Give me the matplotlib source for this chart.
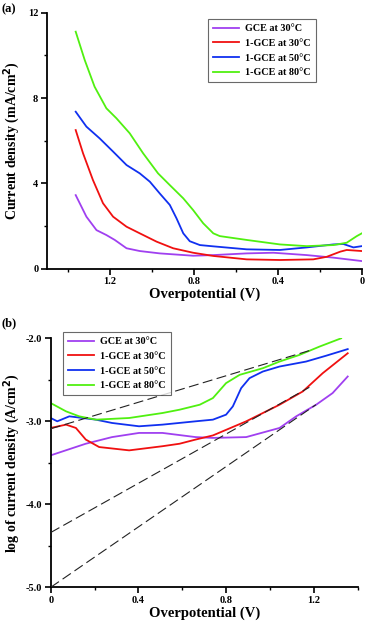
import numpy as np
import matplotlib
matplotlib.use('Agg')
import matplotlib.pyplot as plt
from matplotlib.ticker import MultipleLocator

plt.rcParams['font.family'] = ['Liberation Serif', 'DejaVu Serif']
plt.rcParams['font.weight'] = 'bold'

labels = ['GCE at 30\u00b0C', '1-GCE at 30\u00b0C', '1-GCE at 50\u00b0C', '1-GCE at 80\u00b0C']
colors = ['#A040F0', '#F01010', '#1030F0', '#50F010']

# panel (a): overpotential (V) vs current density (mA/cm2)
a_gce30_v = [1.362, 1.311, 1.263, 1.216, 1.176, 1.12, 1.057, 0.962, 0.803, 0.707, 0.548, 0.421, 0.262, 0.135, 0.0]
a_gce30_j = [3.45, 2.44, 1.81, 1.58, 1.35, 0.96, 0.83, 0.72, 0.61, 0.64, 0.72, 0.75, 0.64, 0.52, 0.36]
a_30_v = [1.362, 1.327, 1.28, 1.232, 1.184, 1.12, 1.057, 0.977, 0.898, 0.803, 0.707, 0.548, 0.39, 0.231, 0.167, 0.103, 0.072, 0.0]
a_30_j = [6.5, 5.41, 4.16, 3.07, 2.44, 1.97, 1.66, 1.27, 0.96, 0.75, 0.6, 0.44, 0.41, 0.44, 0.56, 0.8, 0.88, 0.83]
a_50_v = [1.362, 1.311, 1.248, 1.184, 1.12, 1.057, 1.009, 0.962, 0.914, 0.882, 0.85, 0.819, 0.771, 0.707, 0.548, 0.39, 0.262, 0.135, 0.088, 0.04, 0.0]
a_50_j = [7.36, 6.66, 6.11, 5.49, 4.86, 4.47, 4.08, 3.53, 2.99, 2.36, 1.66, 1.29, 1.11, 1.05, 0.91, 0.88, 1.0, 1.14, 1.16, 1.0, 1.06]
a_80_v = [1.362, 1.319, 1.272, 1.216, 1.168, 1.105, 1.041, 0.97, 0.914, 0.85, 0.803, 0.755, 0.707, 0.676, 0.548, 0.39, 0.262, 0.135, 0.072, 0.024, 0.0]
a_80_j = [11.11, 9.78, 8.53, 7.52, 7.05, 6.35, 5.41, 4.47, 3.92, 3.3, 2.75, 2.13, 1.66, 1.53, 1.35, 1.14, 1.06, 1.11, 1.22, 1.53, 1.66]

# panel (b): overpotential (V) vs log current density
b_gce30_v = [0.0, 0.16, 0.28, 0.403, 0.51, 0.661, 0.74, 0.892, 1.044, 1.12, 1.211, 1.286, 1.355]
b_gce30_j = [-3.41, -3.27, -3.19, -3.14, -3.14, -3.19, -3.2, -3.19, -3.08, -2.94, -2.8, -2.66, -2.46]
b_30_v = [0.0, 0.07, 0.115, 0.16, 0.221, 0.358, 0.51, 0.588, 0.661, 0.74, 0.892, 1.044, 1.15, 1.241, 1.355]
b_30_j = [-3.08, -3.04, -3.08, -3.22, -3.31, -3.35, -3.3, -3.27, -3.22, -3.17, -3.0, -2.8, -2.64, -2.42, -2.18]
b_50_v = [0.0, 0.03, 0.085, 0.206, 0.28, 0.403, 0.51, 0.661, 0.74, 0.8, 0.831, 0.869, 0.907, 0.968, 1.044, 1.165, 1.256, 1.355]
b_50_j = [-2.96, -3.0, -2.94, -2.98, -3.02, -3.06, -3.04, -3.0, -2.98, -2.92, -2.82, -2.6, -2.48, -2.4, -2.34, -2.28, -2.21, -2.13]
b_80_v = [0.0, 0.07, 0.13, 0.206, 0.358, 0.51, 0.588, 0.68, 0.74, 0.8, 0.862, 0.968, 1.044, 1.135, 1.226, 1.325]
b_80_j = [-2.78, -2.88, -2.94, -2.98, -2.96, -2.9, -2.86, -2.8, -2.72, -2.54, -2.44, -2.36, -2.28, -2.2, -2.1, -2.0]

# Tafel fit lines: (start V, end V, start log j, end log j)
fit_1 = [0.0, 1.19, -3.09, -2.14]
fit_2 = [0.0, 1.18, -4.34, -2.59]
fit_3 = [0.0, 1.21, -5.0, -2.80]

a_series = [(a_gce30_v, a_gce30_j), (a_30_v, a_30_j), (a_50_v, a_50_j), (a_80_v, a_80_j)]
b_series = [(b_gce30_v, b_gce30_j), (b_30_v, b_30_j), (b_50_v, b_50_j), (b_80_v, b_80_j)]

fig = plt.figure(figsize=(3.66, 6.25), dpi=100)
ax1 = fig.add_axes([0.1276, 0.570, 0.861, 0.4097])
ax2 = fig.add_axes([0.1385, 0.0603, 0.8385, 0.3984])


def style(ax):
    for s in ['top', 'right']:
        ax.spines[s].set_visible(False)
    for s in ['left', 'bottom']:
        ax.spines[s].set_linewidth(1.3)
    ax.tick_params(which='major', length=4, width=1.2, labelsize=7.5, pad=2)
    ax.tick_params(which='minor', length=2.5, width=1.0)


def add_legend(ax, anchor, loc):
    leg = ax.legend(loc=loc, bbox_to_anchor=anchor, fontsize=7.3, frameon=True,
                    fancybox=False, edgecolor='#444444', handlelength=2.6,
                    handletextpad=0.6, borderpad=0.5, labelspacing=0.55,
                    borderaxespad=0)
    leg.get_frame().set_linewidth(0.8)


def fmt_x(x, p):
    return '0' if abs(x) < 1e-9 else f'{x:.1f}'


for (v, j), c, lab in zip(a_series, colors, labels):
    ax1.plot(v, j, color=c, lw=1.3, label=lab)
ax1.set_xlim(1.5, 0)
ax1.set_ylim(0, 12)
ax1.xaxis.set_major_locator(MultipleLocator(0.4))
ax1.xaxis.set_minor_locator(MultipleLocator(0.2))
ax1.yaxis.set_major_locator(MultipleLocator(4))
ax1.yaxis.set_minor_locator(MultipleLocator(2))
ax1.xaxis.set_major_formatter(fmt_x)
ax1.yaxis.set_major_formatter(lambda y, p: f'{y:.0f}')
style(ax1)
ax1.set_xlabel('Overpotential (V)', fontsize=10.5, fontweight='bold', labelpad=1)
ax1.set_ylabel('Current density (mA/cm$^\\mathbf{2}$)', fontsize=10, fontweight='bold', labelpad=4)
add_legend(ax1, (0.854, 0.975), 'upper right')

for (v, j), c, lab in zip(b_series, colors, labels):
    ax2.plot(v, j, color=c, lw=1.3, label=lab)
for f in [fit_1, fit_2, fit_3]:
    ax2.plot(f[:2], f[2:], color='#222222', lw=0.8, ls=(0, (9, 4)), zorder=3)
ax2.set_xlim(0, 1.4)
ax2.set_ylim(-5.0, -2.0)
ax2.xaxis.set_major_locator(MultipleLocator(0.4))
ax2.xaxis.set_minor_locator(MultipleLocator(0.2))
ax2.yaxis.set_major_locator(MultipleLocator(1.0))
ax2.yaxis.set_minor_locator(MultipleLocator(0.5))
ax2.xaxis.set_major_formatter(fmt_x)
ax2.yaxis.set_major_formatter(lambda y, p: f'{y:.1f}')
style(ax2)
ax2.set_xlabel('Overpotential (V)', fontsize=10.5, fontweight='bold', labelpad=1)
ax2.set_ylabel('log of current density (A/cm$^\\mathbf{2}$)', fontsize=10, fontweight='bold', labelpad=3)
add_legend(ax2, (0.04, 1.025), 'upper left')

fig.text(0.003, 0.985, '(a)', fontsize=9, fontweight='bold', va='center')
fig.text(0.003, 0.483, '(b)', fontsize=9, fontweight='bold', va='center')

fig.savefig('out.png', dpi=100)
